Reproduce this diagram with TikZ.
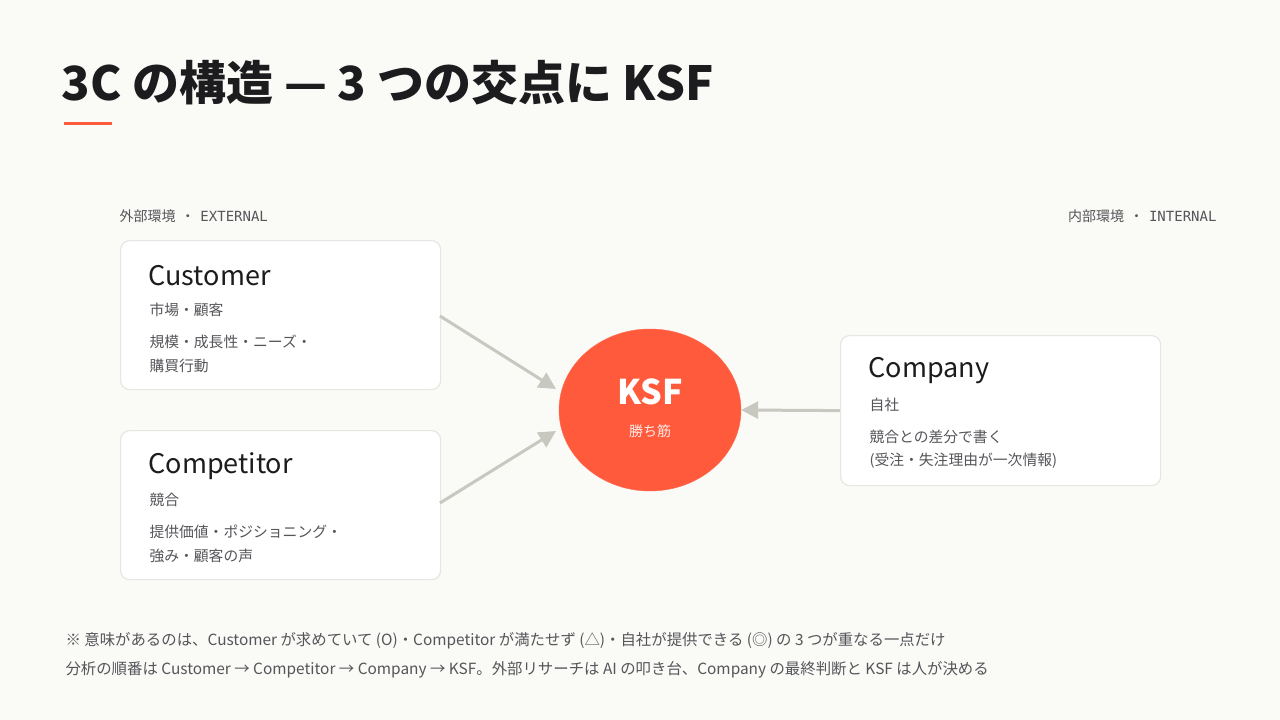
\documentclass[tikz,border=0pt]{standalone}
\usepackage{fontspec}
\setmainfont{Noto Sans CJK JP}
\newfontfamily\monof{DejaVu Sans Mono}
\usetikzlibrary{arrows.meta,shapes.geometric}
\definecolor{bg}{HTML}{FAFAF7}
\definecolor{acc}{HTML}{FF5A3C}
\definecolor{ink}{HTML}{1C1C1E}
\definecolor{sub}{HTML}{55555A}
\definecolor{arr}{HTML}{C8C8C0}
\definecolor{bd}{HTML}{E6E6E2}
\tikzset{
 card/.style={draw=bd,line width=1.2pt,fill=white,rounded corners=9pt},
 ttl/.style={anchor=west,font=\fontsize{27}{31}\selectfont,text=ink},
 txt/.style={anchor=west,font=\fontsize{14.8}{17}\selectfont,text=sub},
 foot/.style={anchor=west,font=\fontsize{15.4}{18}\selectfont,text=sub},
 lab/.style={font=\fontsize{14}{17}\selectfont,text=sub},
 conn/.style={draw=arr,line width=3pt,-{Triangle[length=17pt,width=17pt]}},
}
\begin{document}
\begin{tikzpicture}[x=1pt,y=-1pt]
\useasboundingbox[fill=bg] (0,0) rectangle (1280,720);
\node[anchor=west,font=\fontsize{47}{52}\selectfont\bfseries,text=ink] (title) at (58,83) {3C の構造 — 3 つの交点に KSF};
\draw[acc,line width=3pt] (64,123) -- (112,123);
\node[lab,anchor=west] (ext) at (116,216) {外部環境 \,・\, {\monof EXTERNAL}};
\node[lab,anchor=east] (int) at (1220,216) {内部環境 \,・\, {\monof INTERNAL}};

\node[card,minimum width=320pt,minimum height=149pt,anchor=north west] (cust) at (120,240) {};
\node[ttl] (ct) at (145,276) {Customer};
\node[txt] (c1) at (146,310) {市場・顧客};
\node[txt] (c2) at (146,342) {規模・成長性・ニーズ・};
\node[txt] (c3) at (146,366) {購買行動};

\node[card,minimum width=320pt,minimum height=149pt,anchor=north west] (comp) at (120,430) {};
\node[ttl] (pt) at (145,466) {Competitor};
\node[txt] (p1) at (146,500) {競合};
\node[txt] (p2) at (146,532) {提供価値・ポジショニング・};
\node[txt] (p3) at (146,556) {強み・顧客の声};

\node[card,minimum width=320pt,minimum height=150pt,anchor=north west] (co) at (840,335) {};
\node[ttl] (ot) at (865,371) {Company};
\node[txt] (o1) at (866,405) {自社};
\node[txt] (o2) at (866,437) {競合との差分で書く};
\node[txt] (o3) at (866,461) {(受注・失注理由が一次情報)};

\node[ellipse,fill=acc,draw=acc!90!white,minimum width=182pt,minimum height=162pt] (ksf) at (650,410) {};
\node[font=\fontsize{34}{38}\selectfont\bfseries,text=white] (kt) at (650,392) {KSF};
\node[font=\fontsize{14}{17}\selectfont,text=white!88!acc] (ks) at (650,431) {勝ち筋};

\coordinate (a1) at (440,316); \coordinate (a2) at (440,503);
\coordinate (t1) at (556,389); \coordinate (t2) at (556,431);
\draw[conn] (a1) -- (t1);
\draw[conn] (a2) -- (t2);
\draw[conn] (co.west) -- (ksf.east);

\node[foot] (f1) at (62,641) {※ 意味があるのは、Customer が求めていて (O)・Competitor が満たせず (△)・自社が提供できる (◎) の 3 つが重なる一点だけ};
\node[foot] (f2) at (62,670) {分析の順番は Customer → Competitor → Company → KSF。外部リサーチは AI の叩き台、Company の最終判断と KSF は人が決める};
\end{tikzpicture}
\end{document}
